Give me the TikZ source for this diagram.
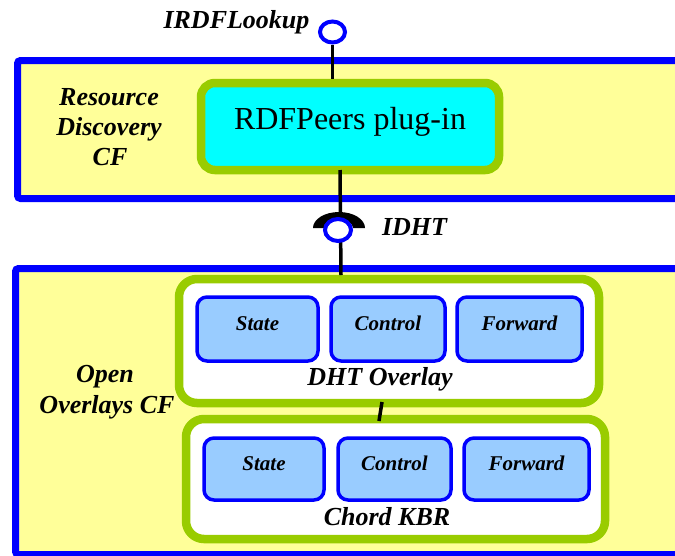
\documentclass[tikz,border=0pt]{standalone}
\usepackage{fontspec}
\usetikzlibrary{shapes.geometric}
\setmainfont{Liberation Serif}
\definecolor{frameyellow}{RGB}{255,255,153}
\definecolor{limegreen}{RGB}{153,204,0}
\definecolor{pureblue}{RGB}{0,0,255}
\definecolor{lightblue}{RGB}{153,204,255}
\definecolor{brightcyan}{RGB}{0,255,255}
\begin{document}
\begin{tikzpicture}[x=1pt,y=-1pt,
  frame/.style={draw=pureblue, line width=7pt, fill=frameyellow, rounded corners=3pt},
  comp/.style={draw=limegreen, line width=8.5pt, inner sep=0pt},
  sub/.style={draw=pureblue, line width=3.5pt, fill=lightblue, rounded corners=10pt, inner sep=0pt},
  lbl/.style={font=\fontsize{26}{30}\selectfont\bfseries\itshape, inner sep=0pt, anchor=base},
  slbl/.style={font=\fontsize{21}{24}\selectfont\bfseries\itshape, inner sep=0pt, anchor=base},
  wire/.style={line width=3.5pt, draw=black},
  iface/.style={ellipse, draw=pureblue, line width=4pt, fill=white, minimum width=25pt, minimum height=21pt, inner sep=0pt}]
\useasboundingbox (0,0) rectangle (675,555);
\clip (0,0) rectangle (675,555);
\fill[white] (0,0) rectangle (675,555);

% component framework frames
\draw[frame] (17.5,60.5) rectangle (720,198.5);
\draw[frame] (15.5,268.5) rectangle (720,554.5);

% components
\node[comp, fill=brightcyan, rounded corners=14pt, minimum width=298pt, minimum height=87pt] (rdf) at (350,126.5) {};
\node[comp, fill=white, rounded corners=18pt, minimum width=420pt, minimum height=124pt] (dht) at (389,341) {};
\node[comp, fill=white, rounded corners=18pt, minimum width=419pt, minimum height=120pt] (chord) at (395.5,479) {};

% sub components
\node[sub, minimum width=121pt, minimum height=64pt] (dstate) at (257.5,329) {};
\node[sub, minimum width=114pt, minimum height=64pt] (dcontrol) at (388,329) {};
\node[sub, minimum width=125pt, minimum height=64pt] (dforward) at (519.5,329) {};
\node[sub, minimum width=120pt, minimum height=62pt] (cstate) at (264,469) {};
\node[sub, minimum width=113pt, minimum height=62pt] (ccontrol) at (394.5,469) {};
\node[sub, minimum width=125pt, minimum height=62pt] (cforward) at (526.5,469) {};

% interfaces
\node[iface] (lookup) at (332.5,32) {};
\coordinate (sock) at (339,228);
\coordinate (dhtout) at (382,402);
\coordinate (chordin) at (379,421);

\draw[wire] (lookup.south) -- (lookup.south |- rdf.north);
\draw[wire] (340,170) -- (341,275);
\draw[wire] (dhtout) -- (chordin);
\fill[black] ([xshift=-26pt]sock) arc[start angle=180, end angle=360, x radius=26, y radius=16]
  -- ([xshift=14pt]sock) arc[start angle=360, end angle=180, x radius=14, y radius=9] -- cycle;
\node[iface, minimum width=26pt, minimum height=22pt] (idht) at (338,230) {};

% texts
\node[font=\fontsize{32}{36}\selectfont, inner sep=0pt, anchor=base] (rdft) at (350,129) {RDFPeers plug-in};
\node[lbl] (lookupt) at (236.5,28) {IRDFLookup};
\node[lbl] (idhtt) at (414.5,235) {IDHT};
\node[lbl] (rd1) at (109,105) {Resource};
\node[lbl] (rd2) at (109,135) {Discovery};
\node[lbl] (rd3) at (110,165) {CF};
\node[lbl] (oo1) at (105,382) {Open};
\node[lbl] (oo2) at (107,413) {Overlays CF};
\node[lbl] (dhtt) at (380,385) {DHT Overlay};
\node[lbl] (chordt) at (387,525) {Chord KBR};

\node[slbl] (dst) at (dstate.center |- 0,330) {State};
\node[slbl] (dct) at (dcontrol.center |- 0,330) {Control};
\node[slbl] (dft) at (dforward.center |- 0,330) {Forward};
\node[slbl] (cst) at (cstate.center |- 0,470) {State};
\node[slbl] (cct) at (ccontrol.center |- 0,470) {Control};
\node[slbl] (cft) at (cforward.center |- 0,470) {Forward};
\end{tikzpicture}
\end{document}
